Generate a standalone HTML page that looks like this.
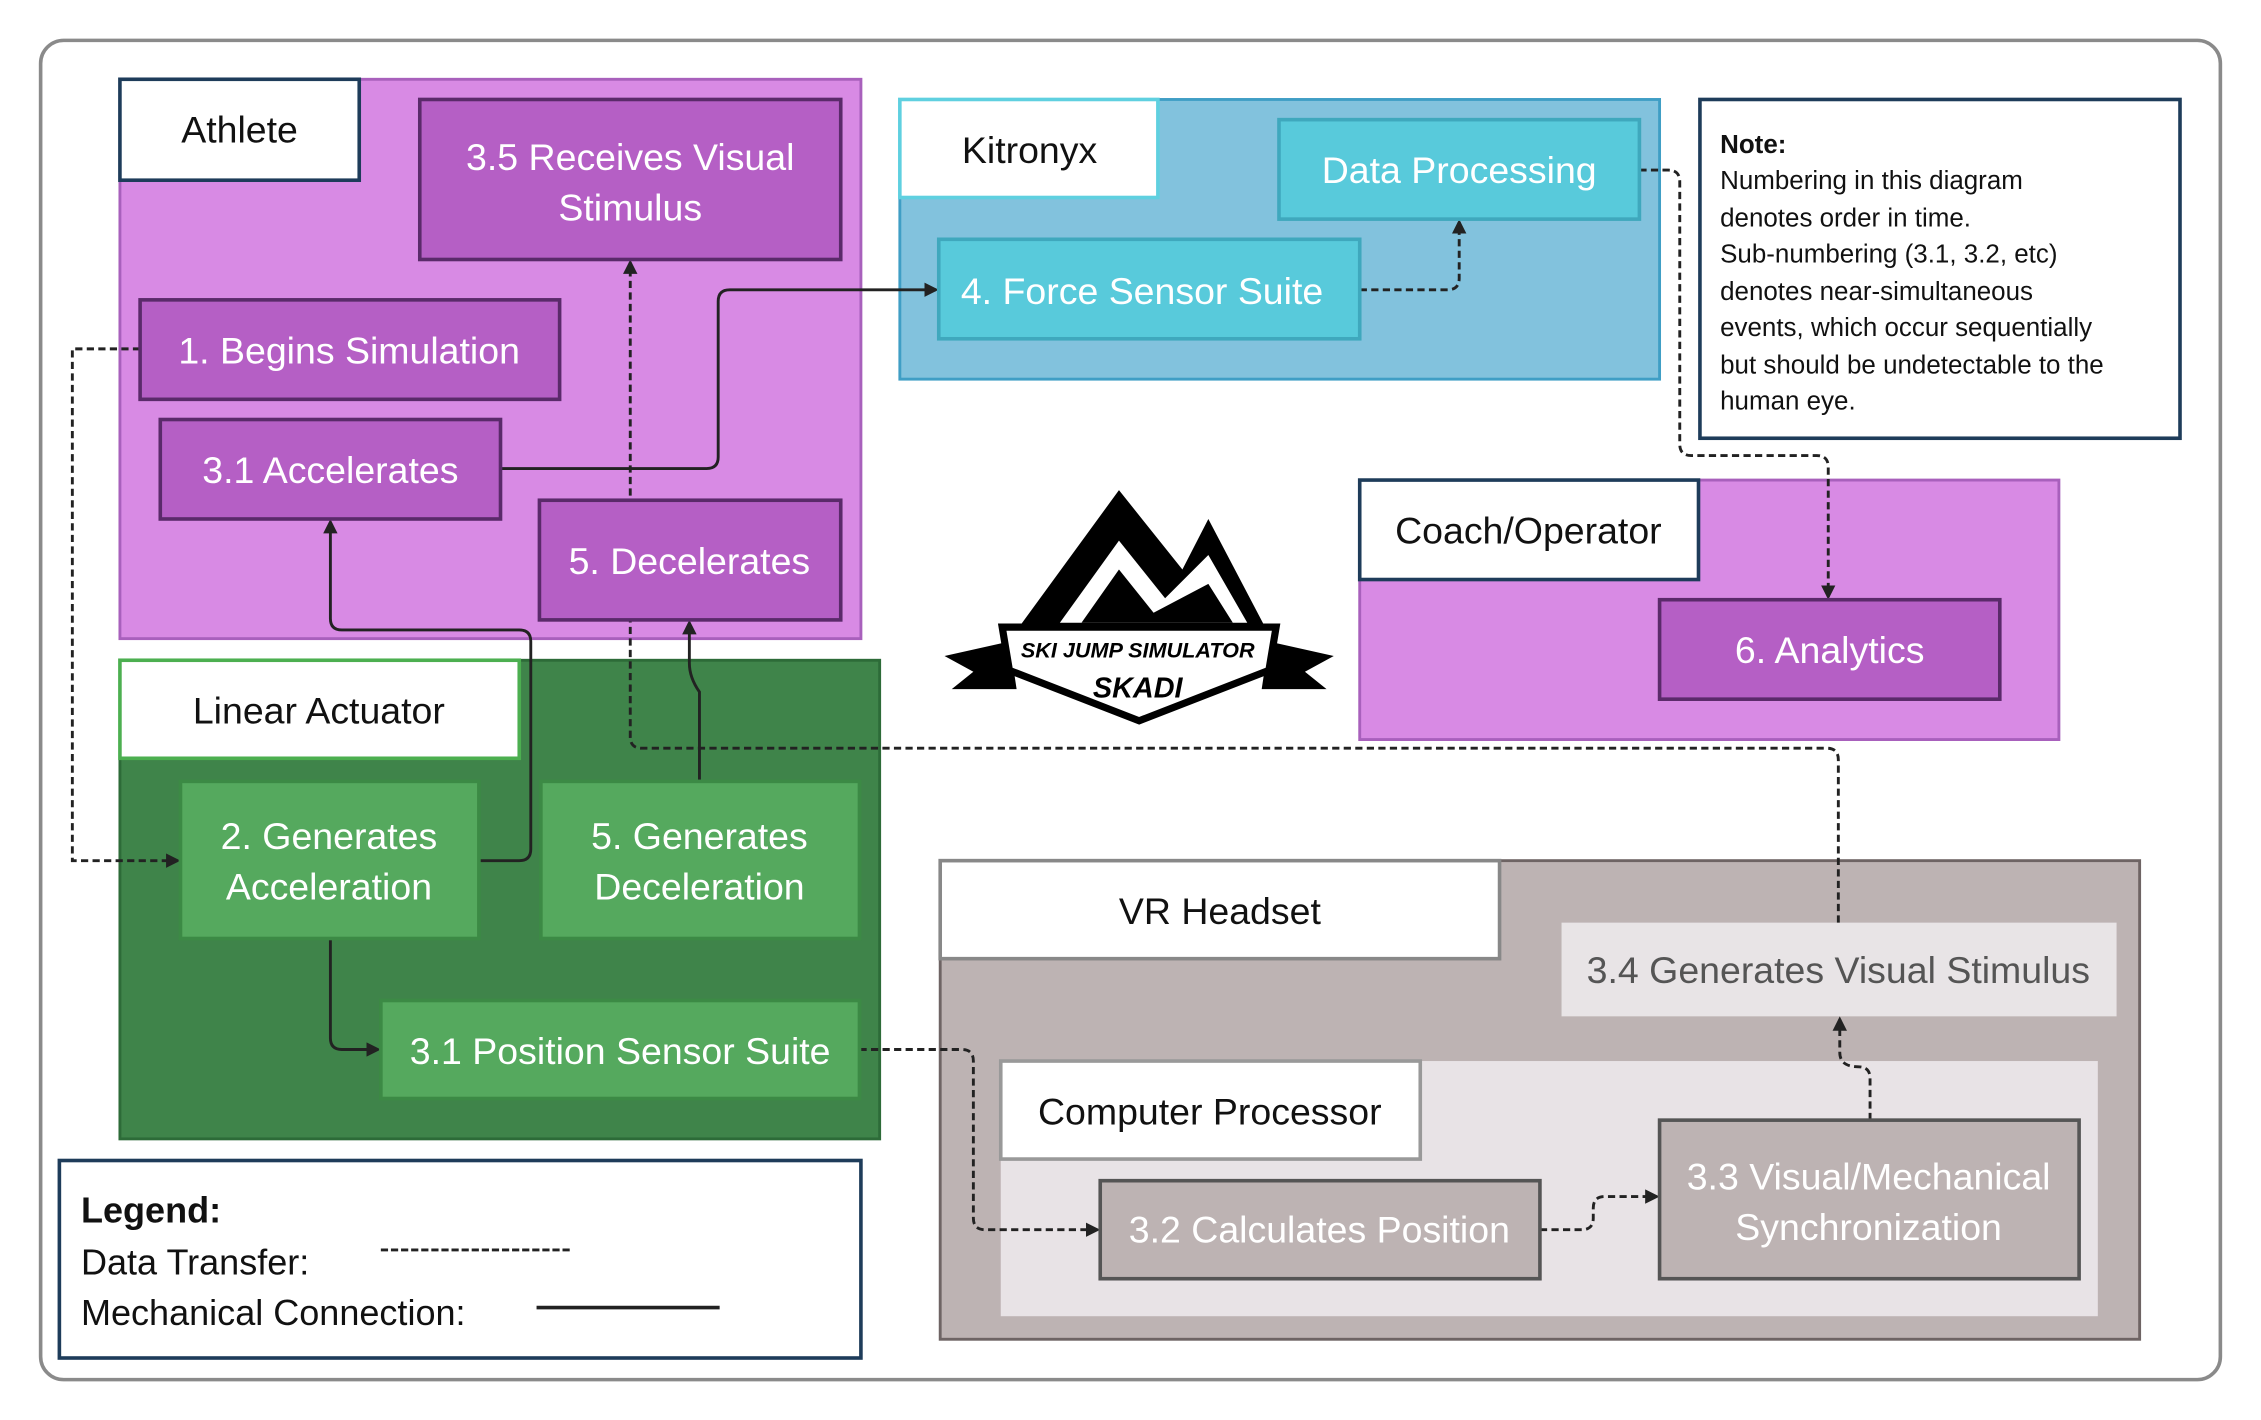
<!DOCTYPE html>
<html><head><meta charset="utf-8"><style>
html,body{margin:0;padding:0;background:#fff;}
svg{display:block;}
text{font-family:"Liberation Sans",sans-serif;}
</style></head><body>
<svg width="2261" height="1420" viewBox="0 0 1568 985" xmlns="http://www.w3.org/2000/svg">
<defs>
<marker id="a" markerWidth="10" markerHeight="10" refX="8" refY="5" orient="auto" markerUnits="userSpaceOnUse"><path d="M0,0 L10,5 L0,10 z" fill="#222"/></marker>
</defs>
<rect x="0" y="0" width="1568" height="985" fill="#fff"/>
<rect x="28" y="28" width="1512" height="929" rx="16" fill="#fff" stroke="#8a8a8a" stroke-width="2.5"/>

<rect x="83" y="55" width="514" height="388" fill="#d88ae4" stroke="#a860bc" stroke-width="2"/>
<rect x="83" y="458" width="527" height="332" fill="#3f844a" stroke="#2d6b38" stroke-width="2"/>
<rect x="624" y="69" width="527" height="194" fill="#82c2dd" stroke="#3f9ec5" stroke-width="2"/>
<rect x="943" y="333" width="485" height="180" fill="#d88ae4" stroke="#a860bc" stroke-width="2"/>
<rect x="652" y="597" width="832" height="332" fill="#bdb3b3" stroke="#6e6464" stroke-width="2"/>
<rect x="694" y="736" width="761" height="177" fill="#e8e3e6"/>
<rect x="1083" y="640" width="385" height="65" fill="#e8e4e6"/>

<g fill="none" stroke="#222" stroke-width="2">
<path d="M97,242 H50 V597 H123" stroke-dasharray="5,3" marker-end="url(#a)"/>
<path d="M332,597 H360 Q368,597 368,589 V445 Q368,437 360,437 H237 Q229,437 229,429 V362" marker-end="url(#a)"/>
<path d="M347,325 H490 Q498,325 498,317 V209 Q498,201 506,201 H649" marker-end="url(#a)"/>
<path d="M943,201 H1004 Q1012,201 1012,193 V154" stroke-dasharray="5,3" marker-end="url(#a)"/>
<path d="M1137,118 H1157 Q1165,118 1165,126 V308 Q1165,316 1173,316 H1260 Q1268,316 1268,324 V414" stroke-dasharray="5,3" marker-end="url(#a)"/>
<path d="M1275,640 V527 Q1275,519 1267,519 H445 Q437,519 437,511 V182" stroke-dasharray="5,3" marker-end="url(#a)"/>
<path d="M485,542 V480 Q478,470 478,460 V432" marker-end="url(#a)"/>
<path d="M229,651 V720 Q229,728 237,728 H262" marker-end="url(#a)"/>
<path d="M596,728 H667 Q675,728 675,736 V845 Q675,853 683,853 H761" stroke-dasharray="5,3" marker-end="url(#a)"/>
<path d="M1068,853 H1097 Q1105,853 1105,845 V838 Q1105,830 1113,830 H1149" stroke-dasharray="5,3" marker-end="url(#a)"/>
<path d="M1297,777 V748 Q1297,740 1289,740 Q1276,740 1276,730 V707" stroke-dasharray="5,3" marker-end="url(#a)"/>
</g>

<g stroke-width="2.5" fill="#fff">
<rect x="83" y="55" width="166" height="70" stroke="#1e3c5a"/>
<rect x="83" y="458" width="277" height="68" stroke="#4caf50"/>
<rect x="624" y="69" width="179" height="68" stroke="#5fd0e0"/>
<rect x="943" y="333" width="235" height="69" stroke="#1e3c5a"/>
<rect x="652" y="597" width="388" height="68" stroke="#888"/>
<rect x="694" y="736" width="291" height="68" stroke="#999"/>
</g>

<g fill="#b55fc5" stroke="#5a2a6a" stroke-width="2.5">
<rect x="291" y="69" width="292" height="111"/>
<rect x="97" y="208" width="291" height="69"/>
<rect x="111" y="291" width="236" height="69"/>
<rect x="374" y="347" width="209" height="83"/>
<rect x="1151" y="416" width="236" height="69"/>
</g>
<g fill="#55a95e" stroke="#3c8a45" stroke-width="2.5">
<rect x="125" y="542" width="207" height="109"/>
<rect x="375" y="542" width="221" height="109"/>
<rect x="264" y="694" width="332" height="68"/>
</g>
<g fill="#58cadb" stroke="#3fa8bd" stroke-width="2.5">
<rect x="887" y="83" width="250" height="69"/>
<rect x="651" y="166" width="292" height="69"/>
</g>
<g fill="#bdb3b3" stroke="#555" stroke-width="2.5">
<rect x="763" y="819" width="305" height="68"/>
<rect x="1151" y="777" width="291" height="110"/>
</g>

<g font-size="26" text-anchor="middle" fill="#111">
<text x="166" y="99">Athlete</text>
<text x="221" y="502">Linear Actuator</text>
<text x="714" y="113">Kitronyx</text>
<text x="1060" y="377">Coach/Operator</text>
<text x="846" y="641">VR Headset</text>
<text x="839" y="780">Computer Processor</text>
</g>
<g font-size="26" text-anchor="middle" fill="#fff">
<text x="437" y="118">3.5 Receives Visual</text>
<text x="437" y="153">Stimulus</text>
<text x="242" y="252">1. Begins Simulation</text>
<text x="229" y="335">3.1 Accelerates</text>
<text x="478" y="398">5. Decelerates</text>
<text x="1269" y="460">6. Analytics</text>
<text x="228" y="589">2. Generates</text>
<text x="228" y="624">Acceleration</text>
<text x="485" y="589">5. Generates</text>
<text x="485" y="624">Deceleration</text>
<text x="430" y="738">3.1 Position Sensor Suite</text>
<text x="1012" y="127">Data Processing</text>
<text x="792" y="211">4. Force Sensor Suite</text>
<text x="915" y="862">3.2 Calculates Position</text>
<text x="1296" y="825">3.3 Visual/Mechanical</text>
<text x="1296" y="860">Synchronization</text>
</g>
<text x="1275" y="682" font-size="26" text-anchor="middle" fill="#555">3.4 Generates Visual Stimulus</text>

<rect x="1179" y="69" width="333" height="235" fill="#fff" stroke="#1e3c5a" stroke-width="2.5"/>
<g font-size="18" fill="#111">
<text x="1193" y="106" font-weight="bold">Note:</text>
<text x="1193" y="131">Numbering in this diagram</text>
<text x="1193" y="157">denotes order in time.</text>
<text x="1193" y="182">Sub-numbering (3.1, 3.2, etc)</text>
<text x="1193" y="208">denotes near-simultaneous</text>
<text x="1193" y="233">events, which occur sequentially</text>
<text x="1193" y="259">but should be undetectable to the</text>
<text x="1193" y="284">human eye.</text>
</g>

<rect x="41" y="805" width="556" height="137" fill="#fff" stroke="#1e3c5a" stroke-width="2.5"/>
<g font-size="25" fill="#111">
<text x="56" y="848" font-weight="bold">Legend:</text>
<text x="56" y="884">Data Transfer:</text>
<text x="56" y="919">Mechanical Connection:</text>
</g>
<line x1="264" y1="867" x2="395" y2="867" stroke="#222" stroke-width="2" stroke-dasharray="5,2"/>
<line x1="372" y1="907" x2="499" y2="907" stroke="#222" stroke-width="2.5"/>

<g>
<polygon points="703,440 776,340 820,395 838,360 880,440" fill="#000"/>
<polygon points="735,432 776,375 808,415 838,385 865,432" fill="#fff"/>
<polygon points="750,432 776,395 800,425 838,405 855,432" fill="#000"/>
<polygon points="655,455 700,445 705,478 660,478 675,466" fill="#000"/>
<polygon points="925,455 880,445 875,478 920,478 905,466" fill="#000"/>
<polygon points="695,435 885,435 880,465 790,500 700,465" fill="#fff" stroke="#000" stroke-width="5"/>
<text x="789" y="456" font-size="15" font-weight="bold" text-anchor="middle" fill="#000" font-style="italic">SKI JUMP SIMULATOR</text>
<text x="789" y="484" font-size="20" font-weight="bold" text-anchor="middle" fill="#000" font-style="italic">SKADI</text>
</g>
</svg>
</body></html>
